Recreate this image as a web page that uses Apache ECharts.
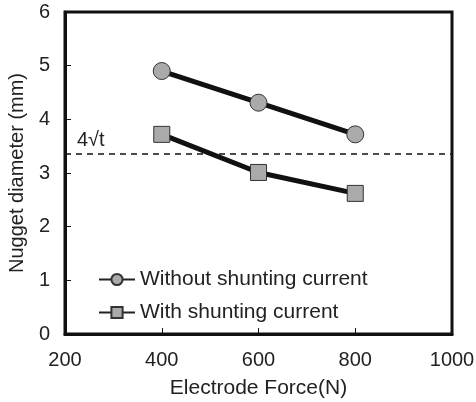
<!DOCTYPE html>
<html>
<head>
<meta charset="utf-8">
<script src="https://cdn.jsdelivr.net/npm/echarts@6/dist/echarts.min.js"></script>
<style>
  html, body { margin: 0; padding: 0; background: #fff; }
  #chart { width: 476px; height: 402px; }
</style>
</head>
<body>
<div id="chart"></div>
<script>
// electrode force (N)
const forces = [400, 600, 800]
const withoutShunt = [4.9, 4.31, 3.72]
const withShunt = [3.72, 3.01, 2.62]
const limitValue = 3.35
const limitLabel = '4√t'

const font = 'Liberation Sans, Arial, sans-serif'

const chart = echarts.init(document.getElementById('chart'))
const options = {
  backgroundColor: '#fff',
  animation: false,
  grid: {
    left: 65,
    right: 24,
    top: 12,
    bottom: 68,
    outerBoundsMode: 'none',
    containLabel: false,
    show: true,
    borderColor: '#111',
    borderWidth: 3
  },
  legend: {
    orient: 'vertical',
    left: 93,
    top: 264,
    itemGap: 12,
    itemWidth: 36,
    itemHeight: 14,
    lineStyle: { width: 2, color: '#222' },
    textStyle: { fontFamily: font, fontSize: 21, color: '#222' },
    data: ['Without shunting current', 'With shunting current']
  },
  xAxis: {
    type: 'value',
    min: 200,
    max: 1000,
    interval: 200,
    name: 'Electrode Force(N)',
    nameLocation: 'middle',
    nameGap: 44,
    nameTextStyle: { fontFamily: font, fontSize: 21, color: '#222' },
    axisLine: { show: true, lineStyle: { color: '#111', width: 3 } },
    axisTick: { show: true, inside: true, length: 6, lineStyle: { color: '#111', width: 1 } },
    axisLabel: { fontFamily: font, fontSize: 20, color: '#222', margin: 16, formatter: v => String(v) },
    splitLine: { show: false }
  },
  yAxis: {
    type: 'value',
    min: 0,
    max: 6,
    interval: 1,
    name: 'Nugget diameter (mm)',
    nameLocation: 'middle',
    nameGap: 38,
    nameTextStyle: { fontFamily: font, fontSize: 20, color: '#222' },
    axisLine: { show: true, lineStyle: { color: '#111', width: 3 } },
    axisTick: { show: true, inside: true, length: 6, lineStyle: { color: '#111', width: 1 } },
    axisLabel: { fontFamily: font, fontSize: 20, color: '#222', margin: 15 },
    splitLine: { show: false }
  },
  series: [
    {
      name: 'Without shunting current',
      type: 'line',
      data: forces.map((f, i) => [f, withoutShunt[i]]),
      symbol: 'circle',
      symbolSize: 17,
      lineStyle: { color: '#111', width: 5 },
      itemStyle: { color: '#aaa', borderColor: '#333', borderWidth: 1 },
      markLine: {
        silent: true,
        symbol: 'none',
        lineStyle: { color: '#111', type: [6, 5], width: 1.5 },
        label: {
          show: true,
          position: 'insideStartTop',
          formatter: limitLabel,
          fontFamily: font,
          fontSize: 20,
          color: '#222',
          distance: [12, 4]
        },
        data: [{ yAxis: limitValue }]
      }
    },
    {
      name: 'With shunting current',
      type: 'line',
      data: forces.map((f, i) => [f, withShunt[i]]),
      symbol: 'rect',
      symbolSize: 16,
      lineStyle: { color: '#111', width: 5 },
      itemStyle: { color: '#aaa', borderColor: '#333', borderWidth: 1 }
    }
  ]
}
chart.setOption(options)
</script>
</body>
</html>
